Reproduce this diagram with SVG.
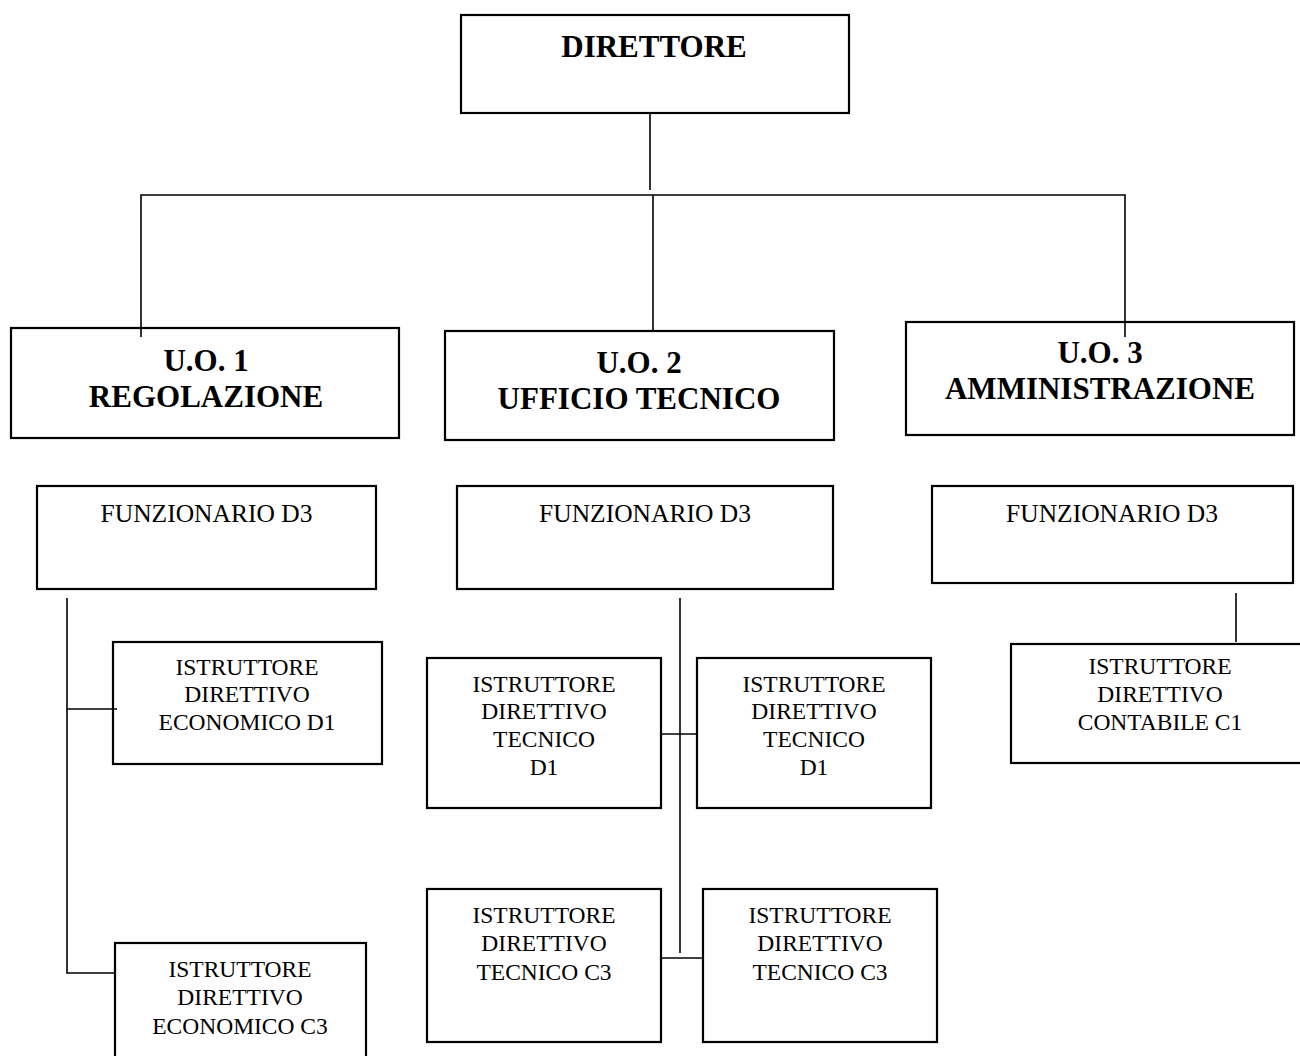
<svg xmlns="http://www.w3.org/2000/svg" width="1300" height="1056" viewBox="0 0 1300 1056">
<style>
.box{fill:#fff;stroke:#000;stroke-width:2.2}
.ln{fill:none;stroke:#000;stroke-width:1.6}
.b{font-family:"Liberation Serif","Times New Roman",serif;font-weight:bold;font-size:31px;text-anchor:middle;fill:#000}
.f{font-family:"Liberation Serif","Times New Roman",serif;font-size:25.5px;text-anchor:middle;fill:#000}
.t{font-family:"Liberation Serif","Times New Roman",serif;font-size:23.5px;text-anchor:middle;fill:#000}
</style>
<rect width="1300" height="1056" fill="#fff"/>
<g id="direttore">
<rect class="box" x="461" y="15" width="388" height="98"/>
<text class="b" x="654" y="57">DIRETTORE</text>
</g>
<g id="uo1">
<rect class="box" x="11" y="328" width="388" height="110"/>
<text class="b" x="206" y="371">U.O. 1</text>
<text class="b" x="206" y="407">REGOLAZIONE</text>
</g>
<g id="uo2">
<rect class="box" x="445" y="331" width="389" height="109"/>
<text class="b" x="639" y="373">U.O. 2</text>
<text class="b" x="639" y="409">UFFICIO TECNICO</text>
</g>
<g id="uo3">
<rect class="box" x="906" y="322" width="388" height="113"/>
<text class="b" x="1100" y="363">U.O. 3</text>
<text class="b" x="1100" y="399">AMMINISTRAZIONE</text>
</g>
<g id="funz1">
<rect class="box" x="37" y="486" width="339" height="103"/>
<text class="f" x="206.5" y="522">FUNZIONARIO D3</text>
</g>
<g id="funz2">
<rect class="box" x="457" y="486" width="376" height="103"/>
<text class="f" x="645" y="522">FUNZIONARIO D3</text>
</g>
<g id="funz3">
<rect class="box" x="932" y="486" width="361" height="97"/>
<text class="f" x="1112" y="522">FUNZIONARIO D3</text>
</g>
<g id="eco-d1">
<rect class="box" x="113" y="642" width="269" height="122"/>
<text class="t" x="247" y="675">ISTRUTTORE</text>
<text class="t" x="247" y="702">DIRETTIVO</text>
<text class="t" x="247" y="730">ECONOMICO D1</text>
</g>
<g id="eco-c3">
<rect class="box" x="115" y="943" width="251" height="130"/>
<text class="t" x="240" y="977">ISTRUTTORE</text>
<text class="t" x="240" y="1005">DIRETTIVO</text>
<text class="t" x="240" y="1034">ECONOMICO C3</text>
</g>
<g id="tec-d1-a">
<rect class="box" x="427" y="658" width="234" height="150"/>
<text class="t" x="544" y="692">ISTRUTTORE</text>
<text class="t" x="544" y="719">DIRETTIVO</text>
<text class="t" x="544" y="747">TECNICO</text>
<text class="t" x="544" y="775">D1</text>
</g>
<g id="tec-d1-b">
<rect class="box" x="697" y="658" width="234" height="150"/>
<text class="t" x="814" y="692">ISTRUTTORE</text>
<text class="t" x="814" y="719">DIRETTIVO</text>
<text class="t" x="814" y="747">TECNICO</text>
<text class="t" x="814" y="775">D1</text>
</g>
<g id="tec-c3-a">
<rect class="box" x="427" y="889" width="234" height="153"/>
<text class="t" x="544" y="923">ISTRUTTORE</text>
<text class="t" x="544" y="951">DIRETTIVO</text>
<text class="t" x="544" y="980">TECNICO C3</text>
</g>
<g id="tec-c3-b">
<rect class="box" x="703" y="889" width="234" height="153"/>
<text class="t" x="820" y="923">ISTRUTTORE</text>
<text class="t" x="820" y="951">DIRETTIVO</text>
<text class="t" x="820" y="980">TECNICO C3</text>
</g>
<g id="contabile">
<rect class="box" x="1011" y="644" width="300" height="119"/>
<text class="t" x="1160" y="674">ISTRUTTORE</text>
<text class="t" x="1160" y="702">DIRETTIVO</text>
<text class="t" x="1160" y="730">CONTABILE C1</text>
</g>
<g id="connectors">
<path class="ln" d="M650 113 V190"/>
<path class="ln" d="M141 337 V195 H1125 V337"/>
<path class="ln" d="M653 195 V331"/>
<path class="ln" d="M67 598 V973 H115"/>
<path class="ln" d="M67 709 H117"/>
<path class="ln" d="M680 598 V953"/>
<path class="ln" d="M661 734 H697"/>
<path class="ln" d="M661 958 H703"/>
<path class="ln" d="M1236 593 V642"/>
</g>
</svg>
